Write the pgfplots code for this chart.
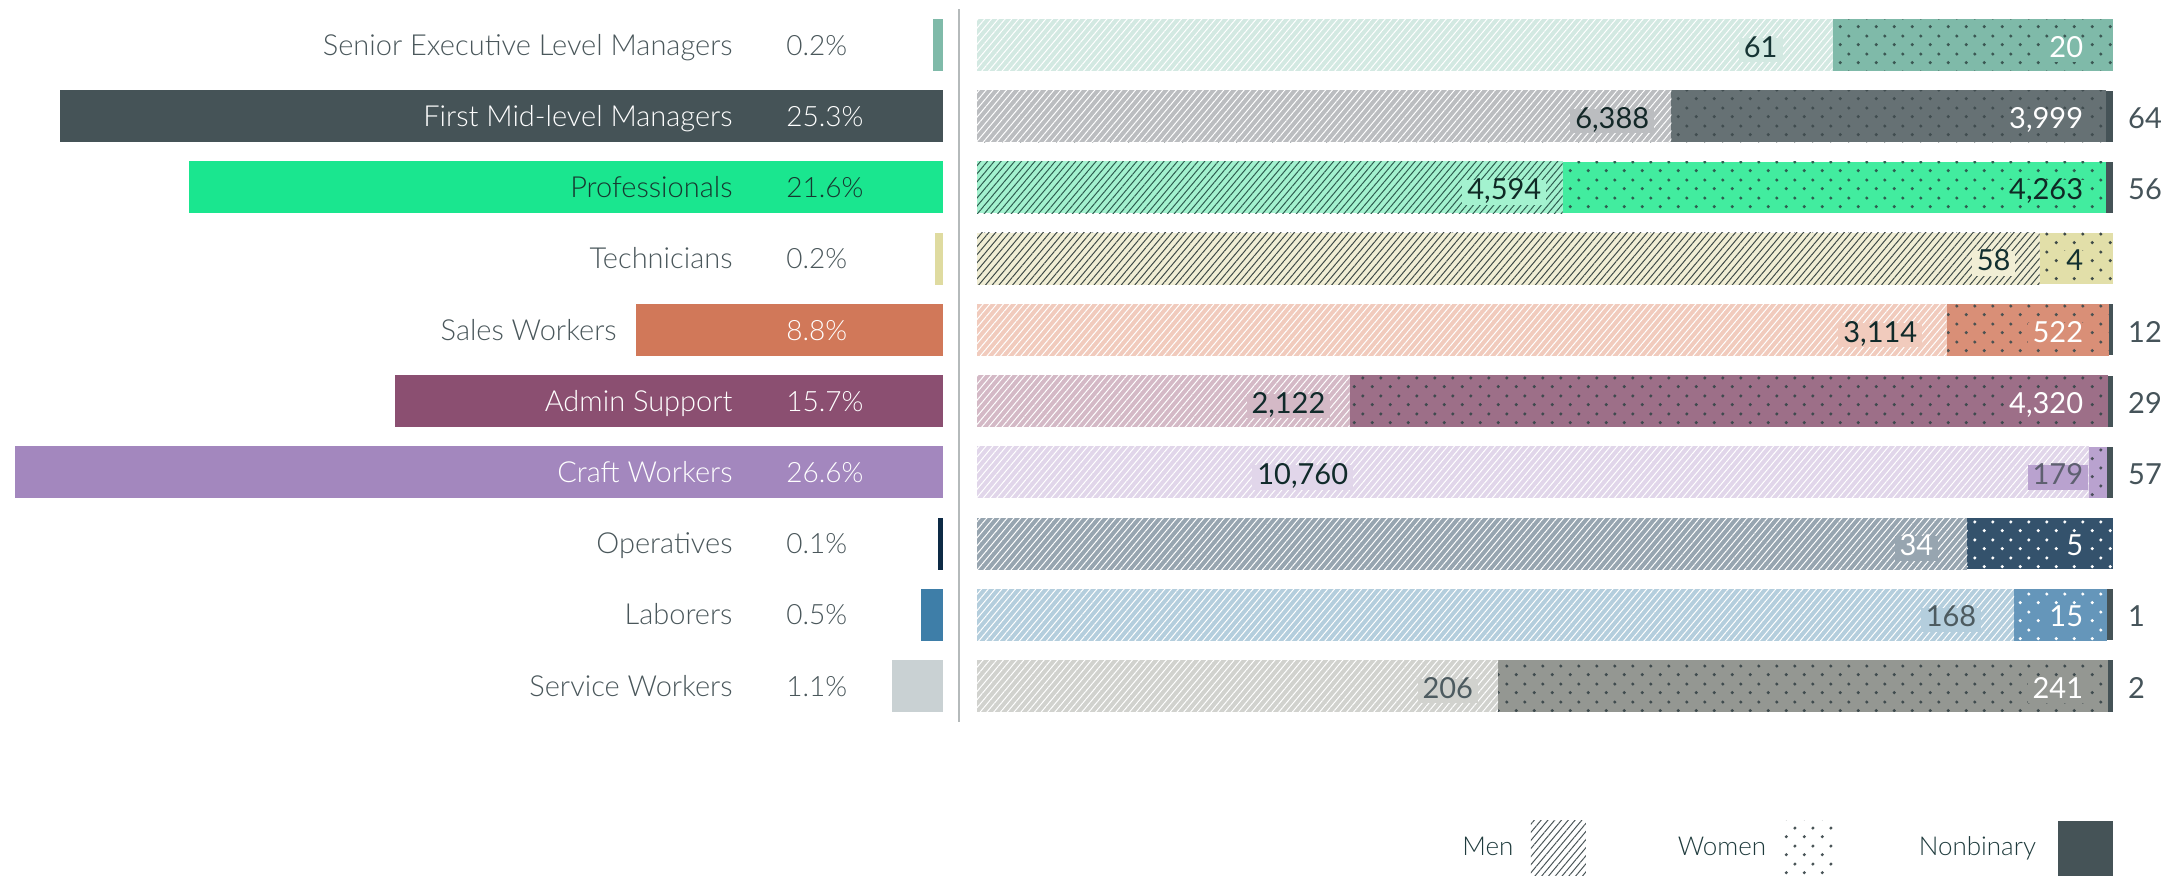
\documentclass[border=0pt]{standalone}
\usepackage{fontspec}
\setmainfont{Lato Light}
\newfontfamily\valfam{Lato}
\usepackage{pgfplots}
\pgfplotsset{compat=1.18}
\usepackage{pgfplotstable}
\usetikzlibrary{patterns.meta}

\tikzdeclarepattern{
  name=wdots,
  type=uncolored,
  bounding box={(0pt,0pt) and (9pt,9pt)},
  tile size={(9pt,9pt)},
  code={
    \pgfpathcircle{\pgfqpoint{2.25pt}{2.25pt}}{0.9pt}
    \pgfpathcircle{\pgfqpoint{6.75pt}{6.75pt}}{0.9pt}
    \pgfusepath{fill}
  }
}

\newcommand\namefont{\fontsize{14.5}{16}\selectfont}
\newcommand\pctfont{\fontsize{14}{16}\selectfont}
\newcommand\valfont{\valfam\fontsize{14.5}{17}\selectfont}
\newcommand\legfont{\fontsize{13}{15}\selectfont}

% left bars
\definecolor{lb0}{HTML}{7FBAA9}\definecolor{lb1}{HTML}{455357}\definecolor{lb2}{HTML}{1AE68F}
\definecolor{lb3}{HTML}{DFDBA0}\definecolor{lb4}{HTML}{D17859}\definecolor{lb5}{HTML}{8B4F71}
\definecolor{lb6}{HTML}{A387BE}\definecolor{lb7}{HTML}{0D2A45}\definecolor{lb8}{HTML}{3E7EA8}
\definecolor{lb9}{HTML}{C9D1D3}
% men background
\definecolor{mb0}{HTML}{D3E9E2}\definecolor{mb1}{HTML}{BBBDC0}\definecolor{mb2}{HTML}{A3F2CF}
\definecolor{mb3}{HTML}{F1EED5}\definecolor{mb4}{HTML}{F1CBBD}\definecolor{mb5}{HTML}{D4B9C6}
\definecolor{mb6}{HTML}{E1D6EA}\definecolor{mb7}{HTML}{97A5B0}\definecolor{mb8}{HTML}{B4CEDD}
\definecolor{mb9}{HTML}{D1D2CE}
% men hatch
\definecolor{mh0}{HTML}{FFFFFF}\definecolor{mh1}{HTML}{FFFFFF}\definecolor{mh2}{HTML}{2E5E50}
\definecolor{mh3}{HTML}{3F4B48}\definecolor{mh4}{HTML}{FFFFFF}\definecolor{mh5}{HTML}{FFFFFF}
\definecolor{mh6}{HTML}{FFFFFF}\definecolor{mh7}{HTML}{FFFFFF}\definecolor{mh8}{HTML}{FFFFFF}
\definecolor{mh9}{HTML}{FFFFFF}
% women background
\definecolor{wb0}{HTML}{7FBAA9}\definecolor{wb1}{HTML}{667174}\definecolor{wb2}{HTML}{42EC9F}
\definecolor{wb3}{HTML}{E2DFA9}\definecolor{wb4}{HTML}{D98F77}\definecolor{wb5}{HTML}{9D6F88}
\definecolor{wb6}{HTML}{B9A2CF}\definecolor{wb7}{HTML}{34526C}\definecolor{wb8}{HTML}{6596BA}
\definecolor{wb9}{HTML}{949792}
% women dots
\definecolor{wd0}{HTML}{3B5753}\definecolor{wd1}{HTML}{414D50}\definecolor{wd2}{HTML}{2E5E50}
\definecolor{wd3}{HTML}{3F4B48}\definecolor{wd4}{HTML}{4A5252}\definecolor{wd5}{HTML}{3F4A4E}
\definecolor{wd6}{HTML}{4A4F5A}\definecolor{wd7}{HTML}{FFFFFF}\definecolor{wd8}{HTML}{FFFFFF}
\definecolor{wd9}{HTML}{3F4B4E}
% men label text
\definecolor{mt0}{HTML}{163434}\definecolor{mt1}{HTML}{132828}\definecolor{mt2}{HTML}{0F2A25}
\definecolor{mt3}{HTML}{123030}\definecolor{mt4}{HTML}{102A2A}\definecolor{mt5}{HTML}{102A2A}
\definecolor{mt6}{HTML}{102A2A}\definecolor{mt7}{HTML}{FFFFFF}\definecolor{mt8}{HTML}{4D5B60}
\definecolor{mt9}{HTML}{4D5B60}
% women label text
\definecolor{wt0}{HTML}{FFFFFF}\definecolor{wt1}{HTML}{FFFFFF}\definecolor{wt2}{HTML}{0F2A25}
\definecolor{wt3}{HTML}{123030}\definecolor{wt4}{HTML}{FFFFFF}\definecolor{wt5}{HTML}{FFFFFF}
\definecolor{wt6}{HTML}{5E6070}\definecolor{wt7}{HTML}{FFFFFF}\definecolor{wt8}{HTML}{FFFFFF}
\definecolor{wt9}{HTML}{FFFFFF}
% name text
\definecolor{nt0}{HTML}{4A575B}\definecolor{nt1}{HTML}{FFFFFF}\definecolor{nt2}{HTML}{173830}
\definecolor{nt3}{HTML}{4A575B}\definecolor{nt4}{HTML}{4A575B}\definecolor{nt5}{HTML}{FFFFFF}
\definecolor{nt6}{HTML}{FFFFFF}\definecolor{nt7}{HTML}{4A575B}\definecolor{nt8}{HTML}{4A575B}
\definecolor{nt9}{HTML}{4A575B}
% percent text
\definecolor{pt0}{HTML}{4A575B}\definecolor{pt1}{HTML}{FFFFFF}\definecolor{pt2}{HTML}{173830}
\definecolor{pt3}{HTML}{4A575B}\definecolor{pt4}{HTML}{FFFFFF}\definecolor{pt5}{HTML}{FFFFFF}
\definecolor{pt6}{HTML}{FFFFFF}\definecolor{pt7}{HTML}{4A575B}\definecolor{pt8}{HTML}{4A575B}
\definecolor{pt9}{HTML}{4A575B}

\definecolor{nbc}{HTML}{455357}
\definecolor{nbt}{HTML}{46545A}
\definecolor{sepc}{HTML}{B5BABB}
\definecolor{legt}{HTML}{1F3B3D}
\definecolor{legc}{HTML}{4A5558}

% pct = bar length as drawn in the picture; pctlab = printed share
\pgfplotstableread[col sep=semicolon]{
row;name;pct;pctlab;men;women;nb;mtext;wtext;mlab;namex
0;Senior Executive Level Managers;0.29;0.2\%;61;20;0;61;20;70.5;6.02
1;First Mid-level Managers;25.3;25.3\%;6388;3999;64;6,388;3,999;59.2;6.02
2;Professionals;21.6;21.6\%;4594;4263;56;4,594;4,263;49.7;6.02
3;Technicians;0.23;0.2\%;58;4;0;58;4;91.0;6.02
4;Sales Workers;8.8;8.8\%;3114;522;12;3,114;522;82.8;9.34
5;Admin Support;15.7;15.7\%;2122;4320;29;2,122;4,320;30.7;6.02
6;Craft Workers;26.6;26.6\%;10760;179;57;10,760;179;32.7;6.02
7;Operatives;0.14;0.1\%;34;5;0;34;5;84.2;6.02
8;Laborers;0.62;0.5\%;168;15;1;168;15;88.0;6.02
9;Service Workers;1.45;1.1\%;206;241;2;206;241;43.7;6.02
}\data

\pgfplotsset{
  lbl/.style={draw=none, mark=none, point meta=explicit symbolic, nodes near coords},
}

\begin{document}
\begin{tikzpicture}
\useasboundingbox (0pt,0pt) rectangle (1088.5pt,-438.5pt);

% ---------- left: share of workforce ----------
\begin{axis}[
  at={(0pt,-4.7pt)}, anchor=north west,
  scale only axis, width=471.5pt, height=356.1pt,
  xmin=0, xmax=27.02, x dir=reverse,
  ymin=-0.5, ymax=9.5, y dir=reverse,
  hide axis, clip=false,
]
\pgfplotsinvokeforeach{0,...,9}{
  \addplot[xbar, bar shift=0pt, bar width=26pt, draw=none, fill=lb#1,
    restrict expr to domain={\coordindex}{#1:#1}]
    table[x=pct, y=row]{\data};
  \addplot[lbl, restrict expr to domain={\coordindex}{#1:#1},
    every node near coord/.append style={anchor=east, inner sep=0pt, font=\namefont,
      text height=0.72em, text depth=0pt, yshift=-1.5pt, text=nt#1}]
    table[x=namex, y=row, meta=name]{\data};
  \addplot[lbl, restrict expr to domain={\coordindex}{#1:#1},
    every node near coord/.append style={anchor=west, inner sep=0pt, font=\pctfont,
      text height=0.72em, text depth=0pt, yshift=-1.5pt, text=pt#1}]
    table[x expr=4.5, y=row, meta=pctlab]{\data};
}
\end{axis}

% ---------- right: men / women / nonbinary ----------
\begin{axis}[
  at={(479.25pt,-4.7pt)}, anchor=north west,
  scale only axis, width=577.25pt, height=356.1pt,
  xmin=-1.63, xmax=100,
  ymin=-0.5, ymax=9.5, y dir=reverse,
  axis x line=none, axis y line*=left,
  xtick=\empty, ytick=\empty,
  y axis line style={draw=sepc, line width=1pt},
  clip=false,
  legend plot pos=right,
  legend style={draw=none, fill=none, at={(1,-0.1775)}, anchor=east,
    inner sep=0pt, outer sep=0pt, font=\legfont, text=legt,
    legend columns=3,
    nodes={inner sep=0pt},
    /tikz/column 1/.append style={column sep=8.7pt},
    /tikz/column 2/.append style={column sep=46pt},
    /tikz/column 3/.append style={column sep=8.3pt},
    /tikz/column 4/.append style={column sep=40.5pt},
    /tikz/column 5/.append style={column sep=11pt}},
]
\addlegendimage{legend image code/.code={\path[draw=none, pattern={Lines[angle=50,distance=2.6pt,line width=0.5pt]}, pattern color=legc] (0pt,-13.75pt) rectangle (27.5pt,13.75pt);}}
\addlegendentry{Men}
\addlegendimage{legend image code/.code={\path[draw=none, pattern=wdots, pattern color=legc] (0pt,-13.75pt) rectangle (27.5pt,13.75pt);}}
\addlegendentry{Women}
\addlegendimage{legend image code/.code={\path[draw=none, fill=nbc] (0pt,-13.75pt) rectangle (27.5pt,13.75pt);}}
\addlegendentry{Nonbinary}

\pgfplotsinvokeforeach{0,...,9}{
  % nonbinary (full length, covered by the other two)
  \addplot[xbar, bar shift=0pt, bar width=25.6pt, draw=none, fill=nbc,
    restrict expr to domain={\coordindex}{#1:#1}]
    table[x expr=100, y=row]{\data};
  % women (cumulative men+women)
  \addplot[xbar, bar shift=0pt, bar width=25.8pt, draw=none, fill=wb#1,
    restrict expr to domain={\coordindex}{#1:#1}]
    table[x expr={(\thisrow{men}+\thisrow{women})/(\thisrow{men}+\thisrow{women}+\thisrow{nb})*100}, y=row]{\data};
  \addplot[xbar, bar shift=0pt, bar width=25.8pt, draw=none, pattern=wdots, pattern color=wd#1,
    restrict expr to domain={\coordindex}{#1:#1}]
    table[x expr={(\thisrow{men}+\thisrow{women})/(\thisrow{men}+\thisrow{women}+\thisrow{nb})*100}, y=row]{\data};
  % men
  \addplot[xbar, bar shift=0pt, bar width=26pt, draw=none, fill=mb#1,
    restrict expr to domain={\coordindex}{#1:#1}]
    table[x expr={\thisrow{men}/(\thisrow{men}+\thisrow{women}+\thisrow{nb})*100}, y=row]{\data};
  \addplot[xbar, bar shift=0pt, bar width=26pt, draw=none,
    pattern={Lines[angle=50,distance=2.6pt,line width=0.5pt]}, pattern color=mh#1,
    restrict expr to domain={\coordindex}{#1:#1}]
    table[x expr={\thisrow{men}/(\thisrow{men}+\thisrow{women}+\thisrow{nb})*100}, y=row]{\data};
  % labels
  \addplot[lbl, restrict expr to domain={\coordindex}{#1:#1},
    every node near coord/.append style={anchor=east, inner sep=2.5pt, xshift=2.5pt, yshift=-2.5pt,
      font=\valfont, text height=0.72em, text depth=0pt, fill=mb#1, text=mt#1}]
    table[x=mlab, y=row, meta=mtext]{\data};
  \addplot[lbl, restrict expr to domain={\coordindex}{#1:#1},
    every node near coord/.append style={anchor=east, inner sep=2.5pt, xshift=2.5pt, yshift=-2.5pt,
      font=\valfont, text height=0.72em, text depth=0pt, fill=wb#1, text=wt#1}]
    table[x expr=97.4, y=row, meta=wtext]{\data};
}
\addplot[lbl, every node near coord/.append style={anchor=west, inner sep=0pt, yshift=-2.5pt,
    font=\valfont, text height=0.72em, text depth=0pt, text=nbt}]
  coordinates {(101.3,1)[64] (101.3,2)[56] (101.3,4)[12] (101.3,5)[29]
               (101.3,6)[57] (101.3,8)[1] (101.3,9)[2]};
\end{axis}
\end{tikzpicture}
\end{document}
